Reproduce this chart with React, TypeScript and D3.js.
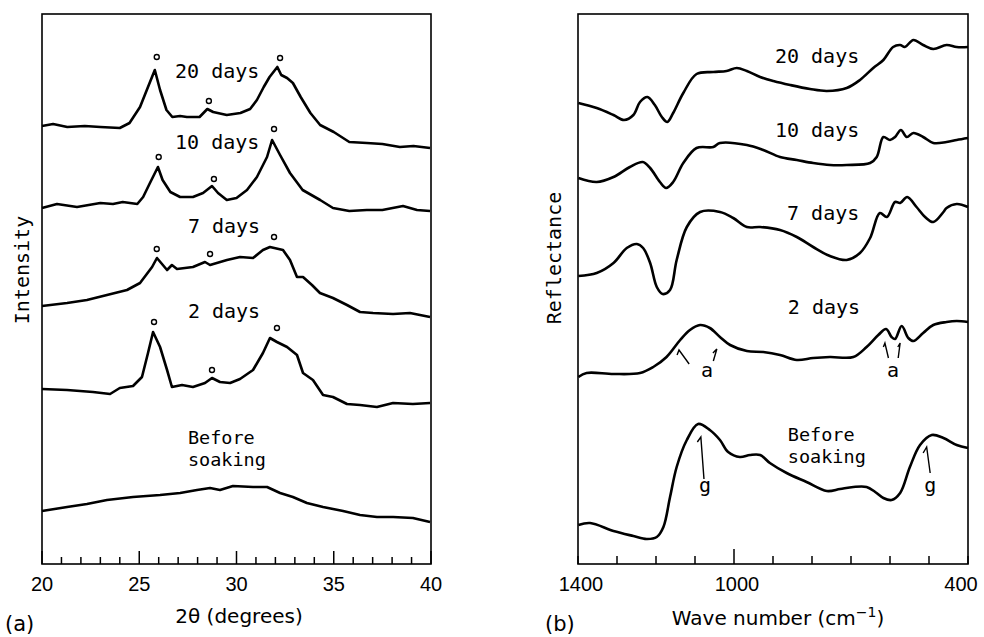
import React from "react";
import * as d3 from "d3";

// (a) XRD patterns: [2θ (deg), intensity (a.u., stacked)]
const xrd20Days: [number, number][] = [
  [20.0, 438], [20.57, 440], [21.3, 437], [22.2, 438], [23.0, 437], [24.0, 436], [24.5, 441],
  [25.04, 457], [25.45, 477], [25.8, 494], [26.07, 474], [26.4, 454], [26.7, 447], [27.1, 448],
  [27.45, 447], [28.1, 447], [28.5, 455], [28.8, 452], [29.5, 449], [30.2, 451], [30.7, 455],
  [31.05, 464], [31.4, 477], [31.7, 487], [32.1, 497], [32.3, 489], [32.6, 486], [32.9, 481],
  [33.3, 467], [33.8, 451], [34.3, 439], [35.0, 432], [35.8, 422], [36.7, 421], [37.5, 420],
  [38.4, 417], [39.1, 418], [39.95, 416],
];
const xrd10Days: [number, number][] = [
  [20.0, 356], [20.77, 360], [21.8, 357], [23.0, 361], [23.65, 360], [24.15, 362], [24.9, 360],
  [25.2, 367], [25.55, 381], [25.96, 397], [26.2, 384], [26.6, 372], [27.1, 367], [27.76, 367],
  [28.28, 371], [28.74, 378], [29.05, 371], [29.5, 364], [30.0, 366], [30.54, 374], [31.05, 387],
  [31.57, 407], [31.83, 424], [32.24, 409], [32.75, 391], [33.4, 374], [34.3, 364], [34.96, 356],
  [35.8, 353], [36.7, 354], [37.5, 354], [38.56, 358], [39.28, 354], [39.95, 353],
];
const xrd7Days: [number, number][] = [
  [20.0, 258], [21.29, 261], [22.31, 264], [23.34, 269], [24.37, 274], [25.04, 281], [25.66, 297],
  [25.91, 306], [26.43, 294], [26.68, 299], [26.94, 295], [27.76, 297], [28.38, 302], [28.64, 299],
  [29.51, 304], [30.18, 307], [30.85, 306], [31.36, 314], [31.72, 317], [32.39, 314], [32.75, 304],
  [33.11, 287], [33.42, 287], [33.88, 279], [34.29, 271], [34.96, 266], [35.68, 259], [36.35, 252],
  [37.02, 251], [38.05, 250], [38.92, 251], [39.95, 247],
];
const xrd2Days: [number, number][] = [
  [20.0, 175], [21.29, 174], [22.62, 172], [23.5, 170], [24.0, 176], [24.68, 178], [25.14, 187],
  [25.45, 211], [25.71, 232], [26.07, 217], [26.43, 194], [26.68, 177], [27.2, 179], [27.76, 177],
  [28.38, 181], [28.74, 186], [29.15, 182], [29.67, 181], [30.18, 185], [30.85, 194], [31.36, 211],
  [31.72, 226], [32.08, 222], [32.6, 217], [33.11, 209], [33.42, 191], [33.93, 184], [34.45, 169],
  [34.96, 167], [35.68, 160], [36.35, 159], [37.22, 157], [38.05, 161], [39.07, 160], [39.95, 161],
];
const xrdBefore: [number, number][] = [
  [20.0, 53], [21.29, 57], [22.31, 60], [23.34, 64], [24.68, 67], [26.07, 69], [27.1, 71],
  [27.97, 74], [28.64, 76], [29.15, 74], [29.82, 78], [30.85, 77], [31.57, 77], [32.24, 71],
  [32.9, 67], [33.62, 61], [34.45, 57], [35.48, 53], [36.35, 49], [37.22, 47], [38.05, 47],
  [39.07, 46], [39.95, 42],
];
// peak markers (open circles) above apatite reflections
const xrdMarks: [number, number][] = [
  [25.9, 507], [28.58, 463], [32.24, 506],
  [26.0, 407], [28.84, 385], [31.93, 435],
  [25.9, 315], [28.64, 310], [31.93, 327],
  [25.76, 242], [28.74, 194], [32.08, 236],
];

// (b) IR reflection spectra: [wave number (cm^-1), reflectance (a.u., stacked)]
const ir20Days: [number, number][] = [
  [1399, 461], [1352, 456], [1309, 449], [1282, 444], [1258, 449], [1241, 462], [1222, 467],
  [1203, 459], [1185, 447], [1171, 442], [1156, 451], [1130, 471], [1096, 490], [1053, 492],
  [1019, 493], [993, 496], [967, 493], [933, 487], [899, 483], [856, 479], [805, 475], [762, 473],
  [711, 476], [677, 484], [643, 496], [617, 504], [592, 517], [574, 519], [562, 517], [540, 524],
  [515, 519], [489, 515], [455, 519], [429, 517], [400, 517],
];
const ir10Days: [number, number][] = [
  [1399, 386], [1352, 382], [1309, 387], [1267, 397], [1234, 402], [1215, 396], [1190, 382],
  [1174, 376], [1156, 382], [1130, 401], [1096, 416], [1053, 417], [1036, 421], [967, 419],
  [925, 414], [882, 407], [839, 404], [797, 401], [754, 399], [711, 399], [651, 401], [634, 407],
  [617, 427], [600, 424], [587, 427], [572, 434], [557, 427], [540, 431], [515, 427], [489, 421],
  [455, 422], [429, 424], [400, 426],
];
const ir7Days: [number, number][] = [
  [1399, 288], [1352, 291], [1309, 301], [1275, 316], [1249, 320], [1233, 316], [1215, 301],
  [1198, 277], [1183, 270], [1164, 274], [1147, 304], [1121, 337], [1087, 352], [1036, 352],
  [1002, 346], [967, 337], [933, 337], [882, 334], [839, 327], [797, 317], [754, 308], [711, 304],
  [677, 311], [651, 326], [626, 351], [608, 347], [587, 362], [574, 361], [556, 367], [532, 357],
  [510, 347], [489, 342], [463, 352], [455, 356], [429, 360], [400, 357],
];
const ir2Days: [number, number][] = [
  [1399, 187], [1378, 191], [1309, 190], [1241, 191], [1207, 197], [1173, 207], [1138, 224],
  [1113, 234], [1087, 239], [1062, 236], [1036, 227], [1010, 219], [967, 213], [925, 212],
  [882, 209], [839, 204], [797, 206], [754, 207], [694, 207], [660, 217], [630, 229], [610, 235],
  [596, 227], [587, 225], [570, 238], [553, 226], [540, 223], [515, 231], [489, 239], [455, 242],
  [429, 243], [400, 242],
];
const irBefore: [number, number][] = [
  [1399, 39], [1369, 41], [1309, 33], [1258, 28], [1224, 25], [1198, 27], [1181, 37], [1164, 67],
  [1147, 97], [1121, 124], [1092, 140], [1062, 134], [1036, 124], [1015, 112], [985, 107],
  [959, 109], [933, 109], [908, 101], [865, 91], [814, 82], [762, 73], [728, 75], [694, 77],
  [660, 77], [638, 72], [617, 66], [596, 64], [574, 71], [549, 97], [523, 119], [493, 129],
  [463, 126], [429, 119], [400, 116],
];

const xrdSeries = [xrd20Days, xrd10Days, xrd7Days, xrd2Days, xrdBefore];
const irSeries = [ir20Days, ir10Days, ir7Days, ir2Days, irBefore];

const dayLabels = ["20 days", "10 days", "7 days", "2 days"];
const beforeLabel = ["Before", "soaking"];

// label anchors in data units
const xrdLabelPos: [number, number][] = [[26.84, 486], [26.84, 415], [27.5, 331], [27.5, 246]];
const xrdBeforePos: [number, number] = [27.5, 120];
const irLabelPos: [number, number][] = [[895, 501], [895, 427], [864, 344], [862, 250]];
const irBeforePos: [number, number] = [862, 123];

// band assignment marks: a = apatite, g = glass ([top, bottom, flag])
const irMarks = [
  { top: [1141, 214], bottom: [1115, 200], flag: [1146, 209] },
  { top: [1044, 215], bottom: [1053, 203], flag: [1054, 211] },
  { top: [613, 221], bottom: [604, 206], flag: [617, 217] },
  { top: [574, 221], bottom: [579, 206], flag: [580, 217] },
  { top: [1085, 127], bottom: [1077, 85], flag: [1094, 122] },
  { top: [506, 117], bottom: [497, 91], flag: [515, 111] },
];
const irMarkLabels: { t: string; w: number; v: number }[] = [
  { t: "a", w: 1069, v: 187 },
  { t: "a", w: 592, v: 187 },
  { t: "g", w: 1074, v: 72 },
  { t: "g", w: 497, v: 72 },
];

const MONO = "'DejaVu Sans Mono', monospace";
const SANS = "'DejaVu Sans', sans-serif";
const TICK = "'Liberation Sans', Arial, sans-serif";

// two-line label, slightly smaller so the lines don't collide
const Stacked = ({ x, y0, lines }: { x: number; y0: number; lines: string[] }) => (
  <text x={x} y={y0} fontFamily={MONO} fontSize={18.5}>
    {lines.map((l, i) => (
      <tspan key={l} x={x} dy={i === 0 ? 0 : 21.5}>{l}</tspan>
    ))}
  </text>
);

export default function App() {
  const W = 984;
  const H = 637;

  const xA = d3.scaleLinear().domain([20, 40]).range([42, 431]);
  const xB = d3.scaleLinear().domain([1400, 400]).range([578, 968]);
  const y = d3.scaleLinear().domain([0, 550]).range([564, 14]);

  const lineA = d3.line<[number, number]>().x((d) => xA(d[0])).y((d) => y(d[1]));
  const lineB = d3
    .line<[number, number]>()
    .x((d) => xB(d[0]))
    .y((d) => y(d[1]))
    .curve(d3.curveCatmullRom.alpha(0.5));

  const ticksA = d3.range(20, 40.001, 1);
  const ticksB = d3.range(400, 1400.001, 100);

  const top = y(550);
  const bottom = y(0);

  return (
    <svg width={W} height={H} style={{ position: "absolute", left: 0, top: 0, background: "#fff" }}>
      {/* panel (a) */}
      <rect x={xA(20)} y={top} width={xA(40) - xA(20)} height={bottom - top} fill="none" stroke="#000" strokeWidth={1.6} />
      {ticksA.map((t) => {
        const major = t % 5 === 0;
        return (
          <line key={t} x1={xA(t)} x2={xA(t)} y1={bottom} y2={bottom - (major ? 13 : 7)} stroke="#000" strokeWidth={1.5} />
        );
      })}
      {ticksA.filter((t) => t % 5 === 0).map((t) => (
        <text key={t} x={xA(t)} y={591} textAnchor="middle" fontFamily={TICK} fontSize={20}>{t}</text>
      ))}
      {xrdSeries.map((s, i) => (
        <path key={i} d={lineA(s) || ""} fill="none" stroke="#000" strokeWidth={2.6} strokeLinejoin="round" />
      ))}
      {xrdMarks.map((m, i) => (
        <circle key={i} cx={xA(m[0])} cy={y(m[1])} r={2.5} fill="#fff" stroke="#000" strokeWidth={1.4} />
      ))}
      {dayLabels.map((l, i) => (
        <text key={l} x={xA(xrdLabelPos[i][0])} y={y(xrdLabelPos[i][1])} fontFamily={MONO} fontSize={20} xmlSpace="preserve">{l}</text>
      ))}
      <Stacked x={xA(xrdBeforePos[0])} y0={y(xrdBeforePos[1])} lines={beforeLabel} />
      <text transform={`translate(29,270) rotate(-90)`} textAnchor="middle" fontFamily={MONO} fontSize={20}>Intensity</text>
      <text x={239} y={623} textAnchor="middle" fontFamily={SANS} fontSize={20}>2θ (degrees)</text>
      <text x={5} y={631} fontFamily={SANS} fontSize={21}>(a)</text>

      {/* panel (b) */}
      <rect x={xB(1400)} y={top} width={xB(400) - xB(1400)} height={bottom - top} fill="none" stroke="#000" strokeWidth={1.6} />
      {ticksB.map((t) => {
        const major = t === 1000;
        return (
          <line key={t} x1={xB(t)} x2={xB(t)} y1={bottom} y2={bottom - (major ? 15 : 8)} stroke="#000" strokeWidth={1.5} />
        );
      })}
      {[1400, 1000, 400].map((t) => (
        <text key={t} x={xB(t) + (t === 400 ? -7 : 3)} y={591} textAnchor="middle" fontFamily={TICK} fontSize={20}>{t}</text>
      ))}
      {irSeries.map((s, i) => (
        <path key={i} d={lineB(s) || ""} fill="none" stroke="#000" strokeWidth={2.6} strokeLinejoin="round" />
      ))}
      {dayLabels.map((l, i) => (
        <text key={l} x={xB(irLabelPos[i][0])} y={y(irLabelPos[i][1])} fontFamily={MONO} fontSize={20}>{l}</text>
      ))}
      <Stacked x={xB(irBeforePos[0])} y0={y(irBeforePos[1])} lines={beforeLabel} />
      {irMarks.map((m, i) => (
        <path
          key={i}
          d={`M${xB(m.flag[0])},${y(m.flag[1])}L${xB(m.top[0])},${y(m.top[1])}L${xB(m.bottom[0])},${y(m.bottom[1])}`}
          fill="none"
          stroke="#000"
          strokeWidth={1.4}
        />
      ))}
      {irMarkLabels.map((m, i) => (
        <text key={i} x={xB(m.w)} y={y(m.v)} textAnchor="middle" fontFamily={MONO} fontSize={20}>{m.t}</text>
      ))}
      <text transform={`translate(561,258) rotate(-90)`} textAnchor="middle" fontFamily={MONO} fontSize={20}>Reflectance</text>
      <text x={778} y={625} textAnchor="middle" fontFamily={SANS} fontSize={20}>
        Wave number (cm<tspan dy={-8} fontSize={14}>−1</tspan><tspan dy={8}>)</tspan>
      </text>
      <text x={545} y={631} fontFamily={SANS} fontSize={21}>(b)</text>
    </svg>
  );
}
